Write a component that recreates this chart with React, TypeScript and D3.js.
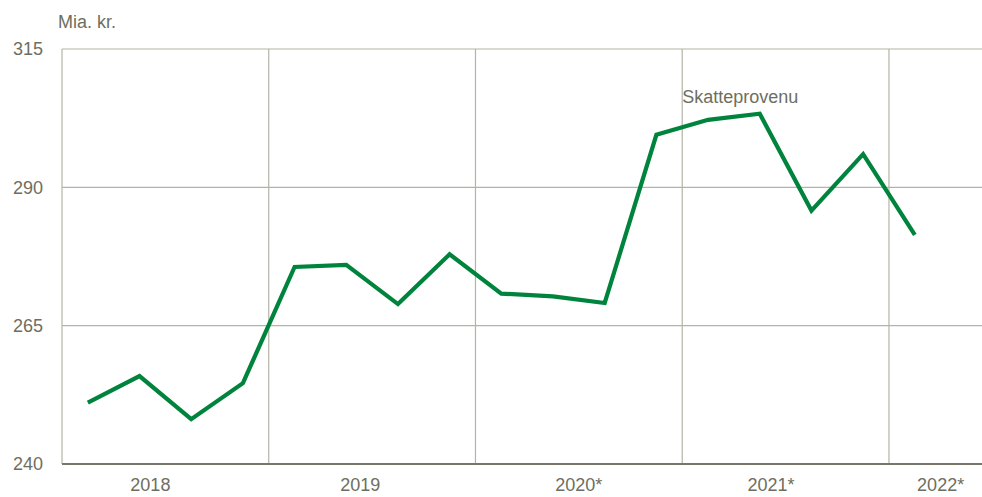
import React, { useEffect, useRef } from 'react'
import * as d3 from 'd3'

// quarterly tax revenue, 2018 Q1 .. 2022 Q1
const values = [
  251.1, 255.9, 248.1, 254.6,
  275.6, 276.0, 268.9, 277.9,
  270.8, 270.3, 269.1, 299.5,
  302.2, 303.3, 285.8, 296.0,
  281.4,
]
const yTicks = [240, 265, 290, 315]
const years = ['2018', '2019', '2020*', '2021*', '2022*']
// where each year label sits, in quarters from the start
const yearLabelPos = [1.71, 5.77, 10.0, 13.72, 17.0]
const seriesLabel = 'Skatteprovenu'
const unitLabel = 'Mia. kr.'

const W = 982
const H = 497
const TEXT = '#6e6e60'
const GRID = '#b4b4a6'
const GREEN = '#00843d'

const App = () => {
  const svgRef = useRef<SVGSVGElement>(null)

  useEffect(() => {
    const svg = d3.select(svgRef.current)
    svg.selectAll('*').remove()

    const margin = { top: 49, right: 0, bottom: 33, left: 62 }
    const x = d3.scaleLinear().domain([0, 17.8]).range([margin.left, W - margin.right])
    const y = d3.scaleLinear().domain([240, 315]).range([H - margin.bottom, margin.top])

    const font = '"Liberation Sans", Arial, sans-serif'

    // horizontal grid
    svg
      .append('g')
      .selectAll('line')
      .data(yTicks.filter((t) => t !== 240))
      .enter()
      .append('line')
      .attr('x1', margin.left)
      .attr('x2', W)
      .attr('y1', (d) => y(d))
      .attr('y2', (d) => y(d))
      .attr('stroke', GRID)
      .attr('stroke-width', 1.2)

    // vertical year separators
    svg
      .append('g')
      .selectAll('line')
      .data([4, 8, 12, 16])
      .enter()
      .append('line')
      .attr('x1', (d) => x(d))
      .attr('x2', (d) => x(d))
      .attr('y1', y(315))
      .attr('y2', y(240))
      .attr('stroke', GRID)
      .attr('stroke-width', 1.2)

    // left axis line
    svg
      .append('line')
      .attr('x1', x(0))
      .attr('x2', x(0))
      .attr('y1', y(315))
      .attr('y2', y(240))
      .attr('stroke', GRID)
      .attr('stroke-width', 1.2)

    // bottom axis
    svg
      .append('line')
      .attr('x1', x(0))
      .attr('x2', W)
      .attr('y1', y(240))
      .attr('y2', y(240))
      .attr('stroke', '#76766a')
      .attr('stroke-width', 2.2)

    // y tick labels
    svg
      .append('g')
      .selectAll('text')
      .data(yTicks)
      .enter()
      .append('text')
      .attr('x', 43)
      .attr('y', (d) => y(d))
      .attr('dy', '0.35em')
      .attr('text-anchor', 'end')
      .attr('font-family', font)
      .attr('font-size', 18)
      .attr('fill', TEXT)
      .text((d) => d)

    svg
      .append('text')
      .attr('x', 58)
      .attr('y', 28)
      .attr('font-family', font)
      .attr('font-size', 18)
      .attr('fill', TEXT)
      .text(unitLabel)

    // year labels
    svg
      .append('g')
      .selectAll('text')
      .data(years)
      .enter()
      .append('text')
      .attr('x', (d, i) => x(yearLabelPos[i]))
      .attr('y', 491)
      .attr('text-anchor', 'middle')
      .attr('font-family', font)
      .attr('font-size', 18)
      .attr('fill', TEXT)
      .text((d) => d)

    // the line
    const line = d3
      .line<number>()
      .x((d, i) => x(i + 0.5))
      .y((d) => y(d))

    svg
      .append('path')
      .datum(values)
      .attr('d', line)
      .attr('fill', 'none')
      .attr('stroke', GREEN)
      .attr('stroke-width', 4.2)
      .attr('stroke-linejoin', 'miter')

    svg
      .append('text')
      .attr('x', x(12))
      .attr('y', 103)
      .attr('font-family', font)
      .attr('font-size', 18)
      .attr('fill', TEXT)
      .text(seriesLabel)
  }, [])

  return (
    <svg
      ref={svgRef}
      width={W}
      height={H}
      style={{ position: 'absolute', left: 0, top: 0, background: '#fff' }}
    ></svg>
  )
}

export default App
